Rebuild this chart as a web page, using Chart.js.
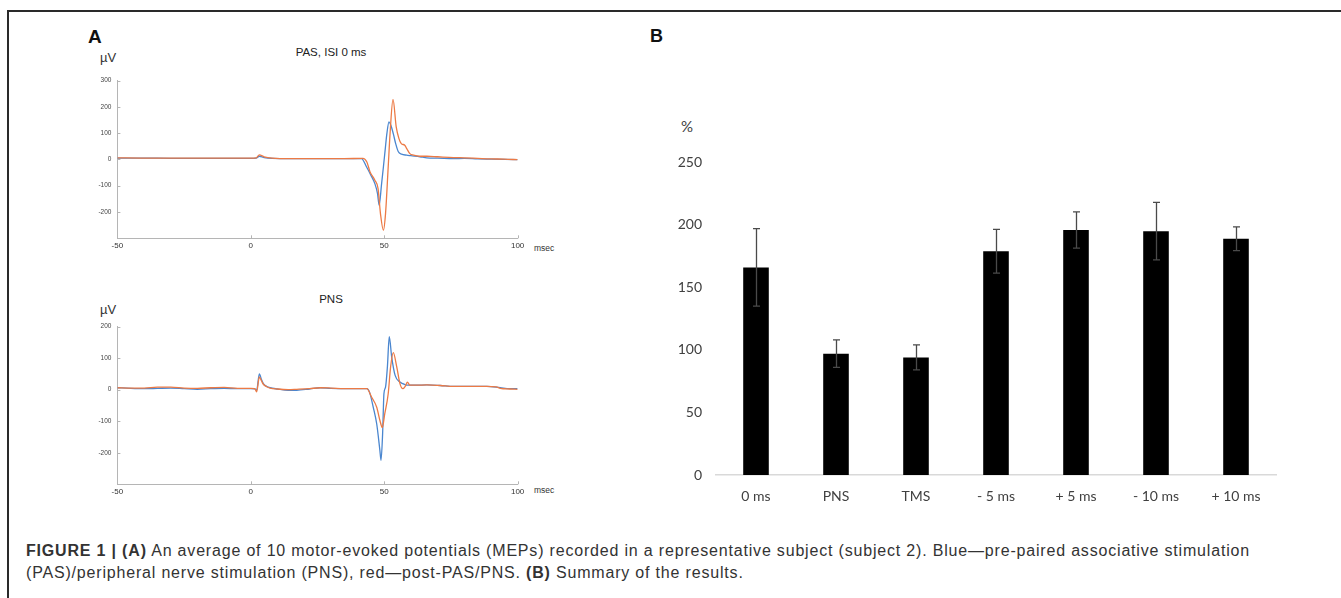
<!DOCTYPE html>
<html>
<head>
<meta charset="utf-8">
<script src="https://cdn.jsdelivr.net/npm/chart.js@4.4.1/dist/chart.umd.min.js"></script>
<style>
  body { margin: 0; background: #fff; width: 1341px; height: 598px; overflow: hidden; position: relative; font-family: "Liberation Sans", Arial, sans-serif; }
  .abs { position: absolute; white-space: nowrap; }
  .frame { position: absolute; left: 7px; top: 10px; width: 1400px; height: 700px; border-top: 2px solid #2a2a2a; border-left: 2px solid #2a2a2a; }
  .panel { font-weight: bold; font-size: 19px; color: #111; }
  .unit { font-size: 13px; color: #333; }
  .ttl { font-size: 11.5px; color: #222; transform: translateX(-50%); }
  .msec { font-size: 8.5px; color: #333; }
  .cap { left: 26px; top: 540px; font-size: 16px; line-height: 22px; color: #333; }
</style>
</head>
<body>
<div class="frame"></div>

<div class="abs panel" style="left:88px; top:26px;">A</div>
<div class="abs unit" style="left:100px; top:50px;">µV</div>
<div class="abs ttl" style="left:331px; top:46px;">PAS, ISI 0 ms</div>
<div class="abs msec" style="left:534px; top:243px;">msec</div>

<div class="abs unit" style="left:100px; top:302px;">µV</div>
<div class="abs ttl" style="left:331px; top:293px;">PNS</div>
<div class="abs msec" style="left:534px; top:485px;">msec</div>

<div class="abs panel" style="left:650px; top:26px; font-size:18px;">B</div>
<div class="abs" style="left:681px; top:117px; font-family: Lato, sans-serif; font-size:15px; color:#404040;">%</div>

<div style="position:absolute; left:50px; top:68px; width:520px; height:195px;"><canvas id="pasChart"></canvas></div>
<div style="position:absolute; left:50px; top:314px; width:520px; height:195px;"><canvas id="pnsChart"></canvas></div>
<div style="position:absolute; left:640px; top:140px; width:670px; height:380px;"><canvas id="barChart"></canvas></div>

<div class="abs cap" id="caption"><span id="capLine1"><b>FIGURE 1 | (A)</b> An average of 10 motor-evoked potentials (MEPs) recorded in a representative subject (subject 2). Blue—pre-paired associative stimulation</span><br>(PAS)/peripheral nerve stimulation (PNS), red—post-PAS/PNS. <b>(B)</b> Summary of the results.</div>

<script>
// Panel A, top: PAS, ISI 0 ms (blue = pre, red = post)
const pasPreMs = [-50, -40, -30, -20, -10, 0, 2, 3.2, 5, 8, 15, 25, 35, 41.5, 43.4, 45, 46.5, 47.5, 48.1, 49, 49.7, 50.4, 51, 51.8, 52.5, 53.4, 54.3, 55.3, 56.5, 58.4, 60, 63.4, 66, 70, 75.9, 80, 85, 90, 95, 100];
const pasPreUv = [5, 5, 4, 4, 4, 4, 5, 12, 7, 4, 3, 3, 3, 3, -29, -60, -92, -130, -174, -95, -29, 40, 98, 143, 130, 98, 60, 29, 20, 16, 14, 10, 6, 5, 3, 4, 2, 1, 0, -1];
const pasPostMs = [-50, -40, -30, -20, -10, 0, 2, 3.2, 5, 8, 15, 25, 35, 42, 43.5, 44.7, 46.5, 47.7, 48.6, 49.7, 50.5, 51.5, 52.2, 53.3, 54.5, 55.5, 56.4, 57.7, 58.5, 59.6, 61, 63.4, 66, 70, 76, 80, 85, 90, 95, 100];
const pasPostUv = [6, 5, 5, 5, 5, 5, 6, 17, 10, 5, 3, 3, 3, 4, -10, -48, -79, -111, -206, -269, -206, -29, 98, 228, 124, 80, 60, 54, 40, 22, 16, 12, 12, 10, 7, 6, 4, 2, 1, -1];

// Panel A, bottom: PNS
const pnsPreMs = [-50, -45, -40, -35, -30, -25, -20, -15, -10, -5, 0, 1.5, 2.2, 3.2, 4, 4.7, 6, 7.2, 10, 14, 17.2, 22, 26, 30, 35, 38.5, 43.5, 44.5, 45.9, 47.2, 48.4, 48.8, 49.4, 49.9, 50.5, 51.2, 51.9, 52.8, 54.1, 55.9, 57, 58.4, 62, 66, 71, 76, 82, 88.5, 93.5, 97, 100];
const pnsPreUv = [6, 4, 3, 4, 5, 3, 1, 3, 4, 3, 3, 2, -2, 50, 32, 19, 10, 6, 2, -2, -2, 2, 6, 4, 3, 3, 3, -8, -56, -109, -194, -224, -141, -13, 8, 72, 168, 104, 45, 24, 19, 14, 14, 15, 13, 10, 10, 10, 6, 3, 3];
const pnsPostMs = [-50, -45, -40, -35, -30, -25, -20, -15, -10, -5, 0, 1.5, 2.2, 3.2, 4, 4.7, 6, 7.2, 10, 14, 17.2, 22, 26, 30, 35, 38.5, 43.5, 45.3, 47.2, 48.4, 49.3, 50.2, 51.5, 52.4, 53.4, 54.7, 55.9, 57, 58, 58.7, 59.6, 62, 66, 71, 76, 82, 88.5, 92, 93.5, 97, 100];
const pnsPostUv = [6, 5, 5, 8, 8, 5, 4, 6, 7, 4, 4, 3, -7, 40, 28, 17, 9, 5, 2, 0, 1, 3, 6, 5, 3, 3, 3, -24, -56, -98, -120, -77, -13, 72, 117, 72, 19, 3, 12, 24, 14, 14, 15, 13, 10, 10, 10, 9, 4, 2, 1];

// Panel B: summary bars with error bars
const barLabels = ['0 ms', 'PNS', 'TMS', '- 5 ms', '+ 5 ms', '- 10 ms', '+ 10 ms'];
const barValues = [166, 97, 94, 179, 196, 195, 189];
const barErrors = [31, 11, 10, 17.5, 14.5, 23, 9.5];

const blue = '#4a86cf';
const red = '#ec7a45';

// stretch the caption's letter spacing so the first line ends where the original does
const capLine1 = document.getElementById('capLine1');
const capWidth = capLine1.getBoundingClientRect().width;
const spacing = (1224 - capWidth) / capLine1.textContent.length;
document.getElementById('caption').style.letterSpacing = spacing.toFixed(3) + 'px';

function toPoints(xs, ys) {
    return xs.map((x, i) => ({ x: x, y: ys[i] }));
}

// small tick marks pointing into the plot, like the original traces
const innerTicks = {
    id: 'innerTicks',
    afterDraw(chart) {
        const { ctx, scales: { x, y } } = chart;
        ctx.save();
        ctx.strokeStyle = '#b5b5b5';
        ctx.lineWidth = 1;
        y.ticks.forEach(t => {
            const py = Math.round(y.getPixelForValue(t.value)) + 0.5;
            ctx.beginPath();
            ctx.moveTo(x.left, py);
            ctx.lineTo(x.left + 3, py);
            ctx.stroke();
        });
        x.ticks.forEach(t => {
            const px = Math.round(x.getPixelForValue(t.value)) + 0.5;
            ctx.beginPath();
            ctx.moveTo(px, y.bottom);
            ctx.lineTo(px, y.bottom - 3);
            ctx.stroke();
        });
        ctx.restore();
    }
};

function traceChart(id, preMs, preUv, postMs, postUv, yMin, yMax) {
    new Chart(document.getElementById(id), {
        type: 'line',
        data: {
            datasets: [
                { data: toPoints(preMs, preUv), borderColor: blue, borderWidth: 1.3, pointRadius: 0, cubicInterpolationMode: 'monotone', order: 2 },
                { data: toPoints(postMs, postUv), borderColor: red, borderWidth: 1.3, pointRadius: 0, cubicInterpolationMode: 'monotone', order: 1 }
            ]
        },
        options: {
            animation: false,
            responsive: true,
            maintainAspectRatio: false,
            layout: { padding: { top: 12.5, right: 52.4, bottom: 0, left: 0 } },
            plugins: { legend: { display: false }, tooltip: { enabled: false } },
            scales: {
                x: {
                    type: 'linear', min: -50, max: 100,
                    ticks: { stepSize: 50, color: '#333', padding: 3, maxRotation: 0, font: { family: 'Liberation Sans', size: 8 } },
                    grid: { display: false, drawTicks: false },
                    border: { color: '#b5b5b5', width: 1 },
                    afterFit: s => { s.height = 24.7; }
                },
                y: {
                    min: yMin, max: yMax,
                    ticks: {
                        stepSize: 100, color: '#444', padding: 6,
                        font: { family: 'Liberation Sans', size: 6.5 },
                        callback: v => (v === -300 ? '' : v)
                    },
                    grid: { display: false, drawTicks: false },
                    border: { color: '#b5b5b5', width: 1 },
                    afterFit: s => { s.width = 67.4; }
                }
            }
        },
        plugins: [innerTicks]
    });
}

traceChart('pasChart', pasPreMs, pasPreUv, pasPostMs, pasPostUv, -300, 300);
traceChart('pnsChart', pnsPreMs, pnsPreUv, pnsPostMs, pnsPostUv, -300, 200);

// error bars drawn over the bars, through the library's own y scale
const errorBars = {
    id: 'errorBars',
    afterDatasetsDraw(chart) {
        const { ctx, scales: { y } } = chart;
        const meta = chart.getDatasetMeta(0);
        ctx.save();
        ctx.strokeStyle = '#4a4a4a';
        ctx.lineWidth = 1.3;
        meta.data.forEach((bar, i) => {
            const top = y.getPixelForValue(barValues[i] + barErrors[i]);
            const bot = y.getPixelForValue(barValues[i] - barErrors[i]);
            const cx = Math.round(bar.x) + 0.5;
            ctx.beginPath();
            ctx.moveTo(cx, top); ctx.lineTo(cx, bot);
            ctx.moveTo(cx - 3.5, top); ctx.lineTo(cx + 3.5, top);
            ctx.moveTo(cx - 3.5, bot); ctx.lineTo(cx + 3.5, bot);
            ctx.stroke();
        });
        ctx.restore();
    }
};

new Chart(document.getElementById('barChart'), {
    type: 'bar',
    data: {
        labels: barLabels,
        datasets: [{ data: barValues, backgroundColor: '#000', barPercentage: 0.32, categoryPercentage: 1 }]
    },
    options: {
        animation: false,
        responsive: true,
        maintainAspectRatio: false,
        layout: { padding: { top: 18.5, right: 34, bottom: 0, left: 0 } },
        plugins: { legend: { display: false }, tooltip: { enabled: false } },
        scales: {
            x: {
                ticks: { color: '#404040', padding: 13, font: { family: 'Lato', size: 14 } },
                grid: { display: false, drawTicks: false },
                border: { color: '#d9d9d9', width: 1.5 },
                afterFit: s => { s.height = 45; }
            },
            y: {
                min: 0, max: 250,
                ticks: { stepSize: 50, color: '#404040', padding: 14, font: { family: 'Lato', size: 14 } },
                grid: { display: false, drawTicks: false },
                border: { display: false },
                afterFit: s => { s.width = 76; }
            }
        }
    },
    plugins: [errorBars]
});
</script>
</body>
</html>
